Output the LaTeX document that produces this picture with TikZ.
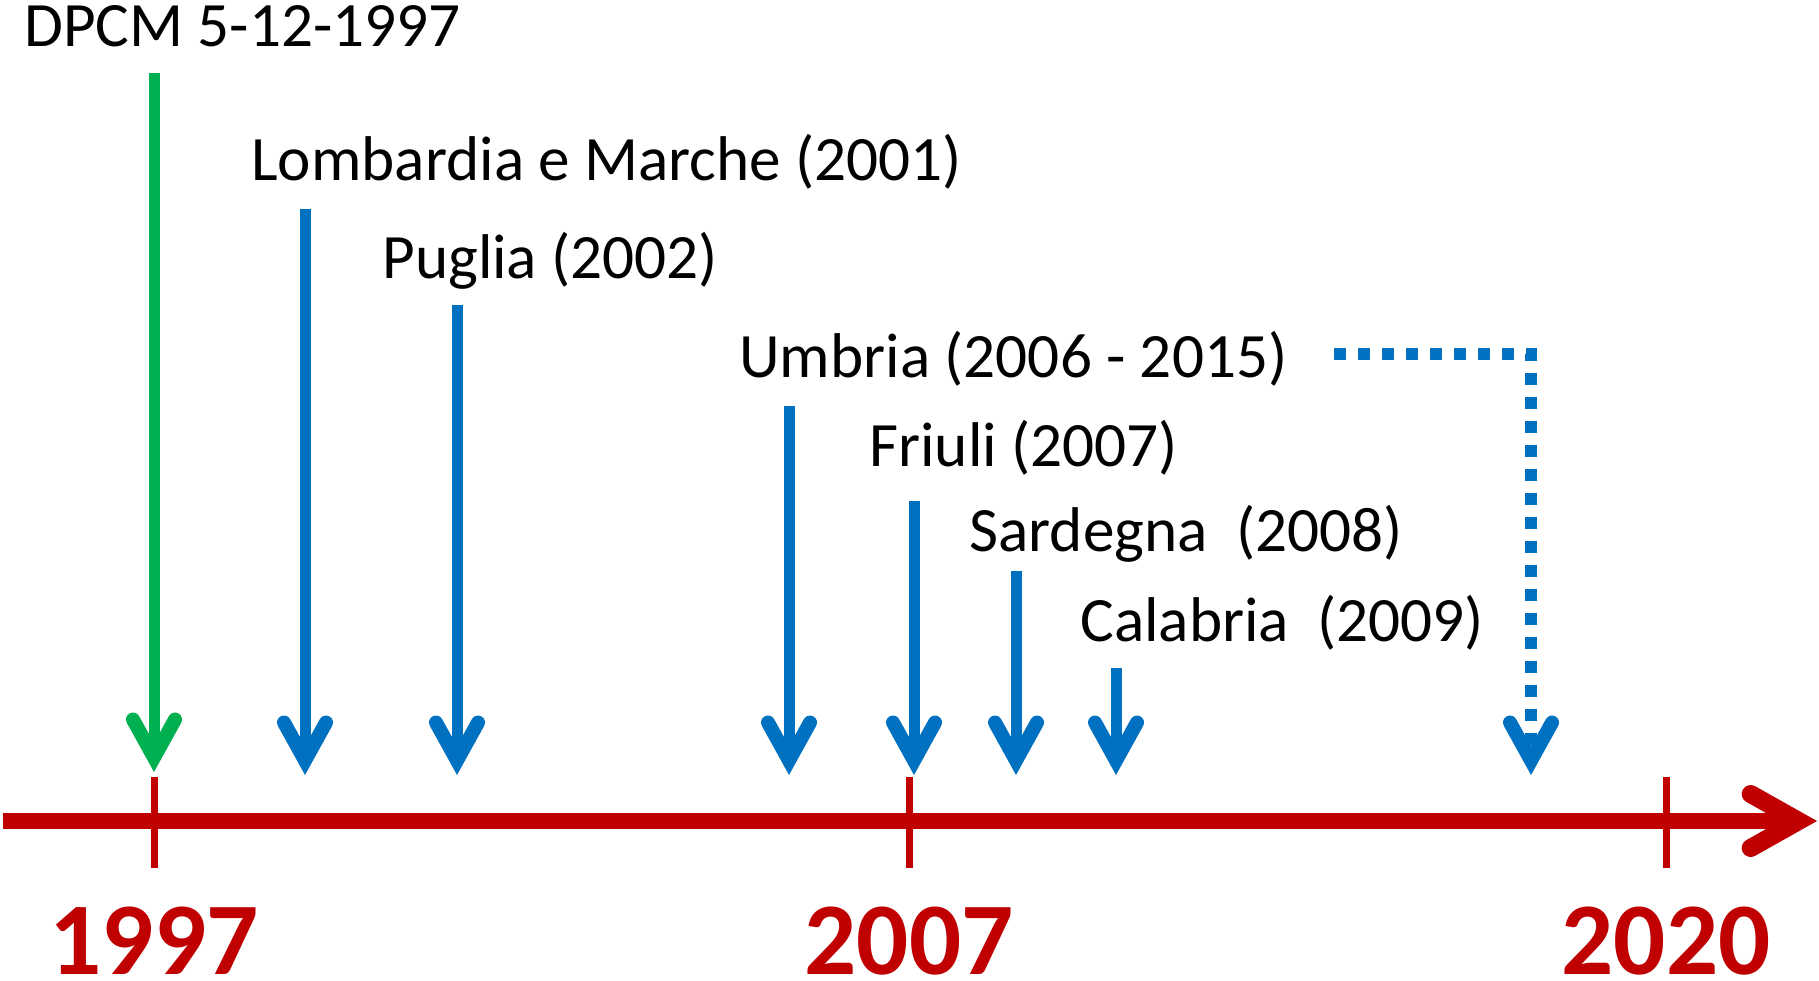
\documentclass[tikz,border=0pt]{standalone}
\usepackage{fontspec}
\setmainfont{Carlito}
\usetikzlibrary{arrows.meta}
\definecolor{tred}{HTML}{C00000}
\definecolor{tgreen}{HTML}{00B050}
\definecolor{tblue}{HTML}{0070C0}
\begin{document}
\begin{tikzpicture}[x=0.5pt,y=-0.5pt,
  lbl/.style={anchor=base west,inner sep=0pt,font=\fontsize{31.6}{38}\selectfont},
  yearlbl/.style={anchor=base,inner sep=0pt,text=tred,font=\fontsize{51.5}{60}\selectfont\bfseries},
  evarrow/.style={line width=5.5pt,-{Straight Barb[length=19pt,width=21pt,line width=7pt,line cap=round,line join=miter]}},
  garrow/.style={evarrow,draw=tgreen},
  barrow/.style={evarrow,draw=tblue},
  dotarrow/.style={line width=6pt,draw=tblue,dash pattern=on 6pt off 6pt,-{Straight Barb[length=19pt,width=21pt,line width=7pt,line cap=round,line join=miter]}},
  axisline/.style={line width=8pt,draw=tred,-{Straight Barb[length=24pt,width=27pt,line width=9pt,line cap=round,line join=miter]}},
  tickmark/.style={line width=3.5pt,draw=tred}]
\useasboundingbox (0,0) rectangle (1819,980);
% timeline
\coordinate (ax0) at (3,821);
\coordinate (ax1) at (1817,821);
\draw[axisline] (ax0) -- (ax1);
\foreach \n/\x in {t1997/154,t2007/909,t2020/1666}{
  \coordinate (\n a) at (\x,777);
  \coordinate (\n b) at (\x,868);
  \draw[tickmark] (\n a) -- (\n b);
}
\node[yearlbl] (y1997) at (154,974) {1997};
\node[yearlbl] (y2007) at (909,974) {2007};
\node[yearlbl] (y2020) at (1666,974) {2020};
% labels
\node[lbl] (dpcm) at (24,46) {DPCM 5-12-1997};
\node[lbl] (lomb) at (251,180) {Lombardia e Marche (2001)};
\node[lbl] (pug) at (382,278) {Puglia (2002)};
\node[lbl] (umb) at (739,377) {Umbria (2006 - 2015)};
\node[lbl] (fri) at (869,466) {Friuli (2007)};
\node[lbl] (sar) at (969,551) {Sardegna\ \ (2008)};
\node[lbl] (cal) at (1080,641) {Calabria\ \ (2009)};
% arrows
\coordinate (g0) at (154,73);   \coordinate (g1) at (154,772);
\draw[garrow] (g0) -- (g1);
\foreach \n/\x/\t in {a1/305/209,a2/457/305,a3/789/406,a4/914/501,a5/1016/571,a6/1116/668}{
  \coordinate (\n s) at (\x,\t);
  \coordinate (\n e) at (\x,775);
  \draw[barrow] (\n s) -- (\n e);
}
\coordinate (d0) at (1334,354);
\coordinate (d1) at (1531,354);
\coordinate (d2) at (1531,775);
\draw[dotarrow] (d0) -- (d1) -- (d2);
\end{tikzpicture}
\end{document}
